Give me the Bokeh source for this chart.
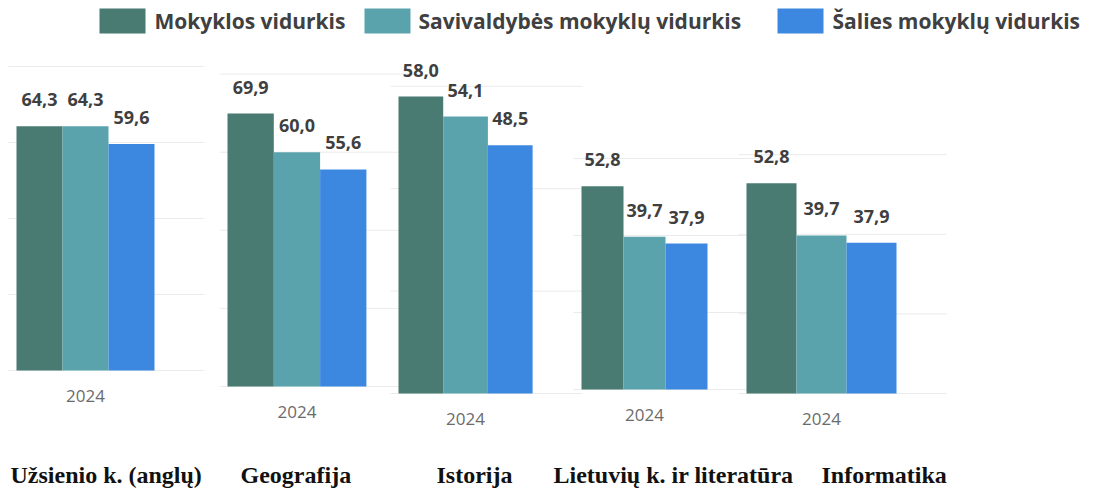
from bokeh.plotting import figure
from bokeh.models import Range1d, ColumnDataSource, LabelSet, Label
from bokeh.core.properties import value
from bokeh.embed import file_html
from bokeh.resources import INLINE

# ---------------- data ----------------
subjects = ["Užsienio k. (anglų)", "Geografija", "Istorija",
            "Lietuvių k. ir literatūra", "Informatika"]
series = ["Mokyklos vidurkis", "Savivaldybės mokyklų vidurkis", "Šalies mokyklų vidurkis"]
mokyklos = [64.3, 69.9, 58.0, 52.8, 52.8]
savivaldybes = [64.3, 60.0, 54.1, 39.7, 39.7]
salies = [59.6, 55.6, 48.5, 37.9, 37.9]
year_label = "2024"
colors = ["#4a7b72", "#5aa3ad", "#3c88e0"]

# ---------------- layout (pixels of the page) ----------------
W, H = 1097, 490
panel_left = [16, 227, 398, 581, 746]      # left edge of first bar
bar_w = [46, 46.3, 44.7, 42, 50]            # width of one bar
panel_bottom = [370, 386, 393, 389, 393]    # baseline of each panel
px_per_unit = [3.8, 3.905, 5.12, 3.85, 3.98]
grid_max = [80, 80, 60, 60, 60]
subject_x = [10, 240, 436, 553, 821]
subject_mid = 474
legend_sw_left = [99, 364, 777]
legend_text_x = [154, 418, 832]
legend_mid = 20


def fy(y):
    return H - y


p = figure(width=W, height=H, x_range=Range1d(0, W), y_range=Range1d(0, H),
           output_backend="svg", toolbar_location=None, min_border=0,
           x_axis_type=None, y_axis_type=None)
p.grid.visible = False
p.outline_line_color = None
p.background_fill_color = "white"
p.border_fill_color = "white"

for i in range(len(subjects)):
    L, w, b, s = panel_left[i], bar_w[i], panel_bottom[i], px_per_unit[i]
    xn, yn = f"x{i}", f"y{i}"
    p.extra_x_ranges[xn] = Range1d(start=-L / w - 0.5, end=(W - L) / w - 0.5)
    p.extra_y_ranges[yn] = Range1d(start=-(H - b) / s, end=b / s)

    # faint gridlines
    gv = list(range(0, grid_max[i] + 1, 20))
    p.segment(x0=[-0.5 - 8 / w] * len(gv), x1=[2.5 + 50 / w] * len(gv), y0=gv, y1=gv,
              line_color="#ebebeb", line_width=1, x_range_name=xn, y_range_name=yn)

    vals = [mokyklos[i], savivaldybes[i], salies[i]]
    src = ColumnDataSource(dict(
        idx=[0, 1, 2], val=vals, color=colors,
        label=[f"{v:.1f}".replace(".", ",") for v in vals]))
    p.vbar(x="idx", top="val", bottom=0, width=1.0, source=src,
           fill_color="color", line_color=None, x_range_name=xn, y_range_name=yn)

    p.add_layout(LabelSet(x="idx", y="val", text="label", source=src,
                          x_range_name=xn, y_range_name=yn,
                          text_align="center", text_baseline="alphabetic", y_offset=20,
                          text_font=value("Open Sans"), text_font_style="bold",
                          text_font_size="18px", text_color="#3f3f3f"))
    p.add_layout(Label(x=1, y=0, text=year_label, x_range_name=xn, y_range_name=yn,
                       text_align="center", text_baseline="middle", y_offset=-25,
                       text_font="Open Sans", text_font_size="17px",
                       text_color="#6b6b6b"))
    p.add_layout(Label(x=subject_x[i], y=fy(subject_mid), text=subjects[i],
                       text_align="left", text_baseline="middle",
                       text_font="Liberation Serif", text_font_style="bold",
                       text_font_size="24px", text_color="#111111"))

# legend
for k in range(len(series)):
    p.quad(left=legend_sw_left[k], right=legend_sw_left[k] + 46,
           top=fy(8), bottom=fy(33), fill_color=colors[k], line_color=None)
    p.add_layout(Label(x=legend_text_x[k], y=fy(legend_mid), text=series[k],
                       text_align="left", text_baseline="middle",
                       text_font="Open Sans", text_font_style="bold",
                       text_font_size="21px", text_color="#404040"))

open("out.html", "w").write(file_html(p, INLINE))
